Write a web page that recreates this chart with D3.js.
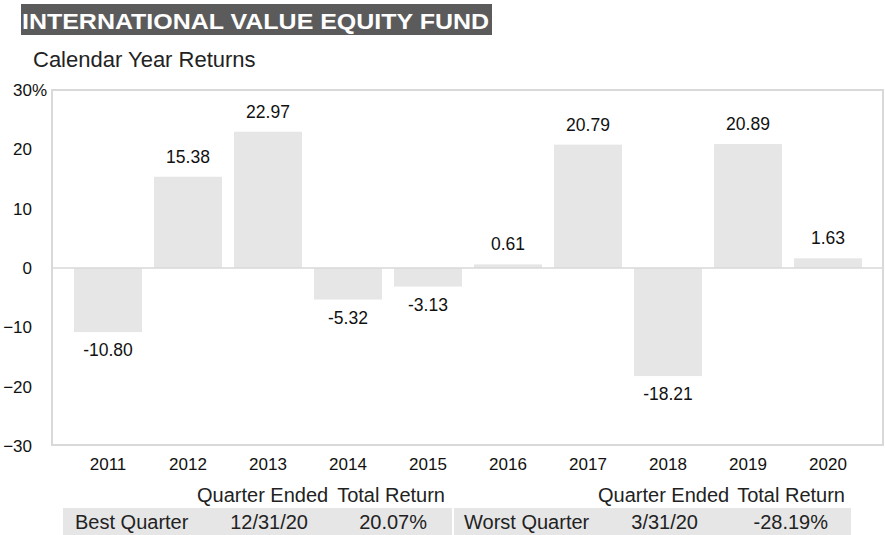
<!DOCTYPE html>
<html>
<head>
<meta charset="utf-8">
<script src="https://cdn.jsdelivr.net/npm/d3@7"></script>
<style>
  html, body { margin: 0; padding: 0; background: #fff; }
  svg { display: block; font-family: "Liberation Sans", Arial, Helvetica, sans-serif; }
</style>
</head>
<body>
<svg id="chart" width="885" height="535"></svg>
<script>
// Fund calendar-year returns (%)
const years = ["2011", "2012", "2013", "2014", "2015", "2016", "2017", "2018", "2019", "2020"];
const returns = [-10.80, 15.38, 22.97, -5.32, -3.13, 0.61, 20.79, -18.21, 20.89, 1.63];
const yTicks = [-30, -20, -10, 0, 10, 20, 30];

// Best / worst quarter summary
const quarterLabels = ["Best Quarter", "Worst Quarter"];
const quarterDates = ["12/31/20", "3/31/20"];
const quarterReturns = ["20.07%", "-28.19%"];
const quarterHeaders = ["Quarter Ended", "Total Return"];

const svg = d3.select("#chart");

const plot = { left: 52, right: 883, top: 90, bottom: 445 };

const x = d3.scaleBand()
  .domain(years)
  .range([68, 868])
  .paddingInner(0.15)
  .paddingOuter(0.075);

const y = d3.scaleLinear()
  .domain([-30, 30])
  .range([plot.bottom + 1, plot.top]);

// Title banner
svg.append("rect")
  .attr("x", 21).attr("y", 4).attr("width", 471).attr("height", 31)
  .attr("fill", "#5b5b5b");
svg.append("text")
  .attr("x", 22).attr("y", 29)
  .attr("fill", "#fff")
  .attr("font-weight", "bold")
  .attr("font-size", 22)
  .attr("textLength", 467)
  .attr("lengthAdjust", "spacingAndGlyphs")
  .text("INTERNATIONAL VALUE EQUITY FUND");

svg.append("text")
  .attr("x", 33).attr("y", 67)
  .attr("fill", "#222")
  .attr("font-size", 22)
  .text("Calendar Year Returns");

// Plot frame
svg.append("rect")
  .attr("x", plot.left).attr("y", plot.top)
  .attr("width", plot.right - plot.left)
  .attr("height", plot.bottom - plot.top)
  .attr("fill", "none")
  .attr("stroke", "#d9d9d9")
  .attr("stroke-width", 2);

// Bars
svg.append("g").selectAll("rect")
  .data(returns)
  .join("rect")
  .attr("x", (d, i) => x(years[i]))
  .attr("width", x.bandwidth())
  .attr("y", d => y(Math.max(0, d)))
  .attr("height", d => Math.abs(y(d) - y(0)))
  .attr("fill", "#e6e6e6");

// Zero line
svg.append("line")
  .attr("x1", plot.left).attr("x2", plot.right)
  .attr("y1", y(0)).attr("y2", y(0))
  .attr("stroke", "#d9d9d9")
  .attr("stroke-width", 1.5);

// Value labels
svg.append("g").selectAll("text")
  .data(returns)
  .join("text")
  .attr("x", (d, i) => x(years[i]) + x.bandwidth() / 2)
  .attr("y", d => d >= 0 ? y(d) - 14 : y(d) + 24)
  .attr("text-anchor", "middle")
  .attr("font-size", 17.5)
  .attr("fill", "#111")
  .text(d => d.toFixed(2));

// Y axis
const yAxis = svg.append("g")
  .attr("transform", "translate(32,0)")
  .call(d3.axisLeft(y).tickValues(yTicks).tickSize(0).tickPadding(0).tickFormat(d3.format("d")));
yAxis.select(".domain").remove();
yAxis.selectAll("text")
  .attr("font-size", 17)
  .attr("fill", "#111")
  .attr("font-family", null);
yAxis.selectAll(".tick")
  .filter(d => d === d3.max(yTicks))
  .append("text")
  .attr("x", 0)
  .attr("dy", "0.32em")
  .attr("text-anchor", "start")
  .attr("font-size", 17)
  .attr("fill", "#111")
  .text("%");

// X axis
const xAxis = svg.append("g")
  .attr("transform", "translate(0,458)")
  .call(d3.axisBottom(x).tickSize(0).tickPadding(0));
xAxis.select(".domain").remove();
xAxis.selectAll("text")
  .attr("font-size", 17)
  .attr("fill", "#111")
  .attr("font-family", null)
  .attr("dy", "0.71em");

// Quarter summary table
const tables = [
  { boxX: 63, boxW: 389, labelX: 75, dateEnd: 308, retEnd: 427, hdrQStart: 197, hdrTEnd: 445 },
  { boxX: 454, boxW: 397, labelX: 464, dateEnd: 698, retEnd: 828, hdrQStart: 598, hdrTEnd: 845 }
];
tables.forEach((t, i) => {
  const g = svg.append("g").attr("font-size", 20).attr("fill", "#222");
  g.append("text")
    .attr("x", t.hdrQStart).attr("y", 502)
    .text(quarterHeaders[0]);
  g.append("text")
    .attr("x", t.hdrTEnd).attr("y", 502)
    .attr("text-anchor", "end")
    .text(quarterHeaders[1]);
  g.append("rect")
    .attr("x", t.boxX).attr("y", 508)
    .attr("width", t.boxW).attr("height", 27)
    .attr("fill", "#e6e6e6");
  g.append("text")
    .attr("x", t.labelX).attr("y", 529)
    .text(quarterLabels[i]);
  g.append("text")
    .attr("x", t.dateEnd).attr("y", 529)
    .attr("text-anchor", "end")
    .text(quarterDates[i]);
  g.append("text")
    .attr("x", t.retEnd).attr("y", 529)
    .attr("text-anchor", "end")
    .text(quarterReturns[i]);
});
</script>
</body>
</html>
